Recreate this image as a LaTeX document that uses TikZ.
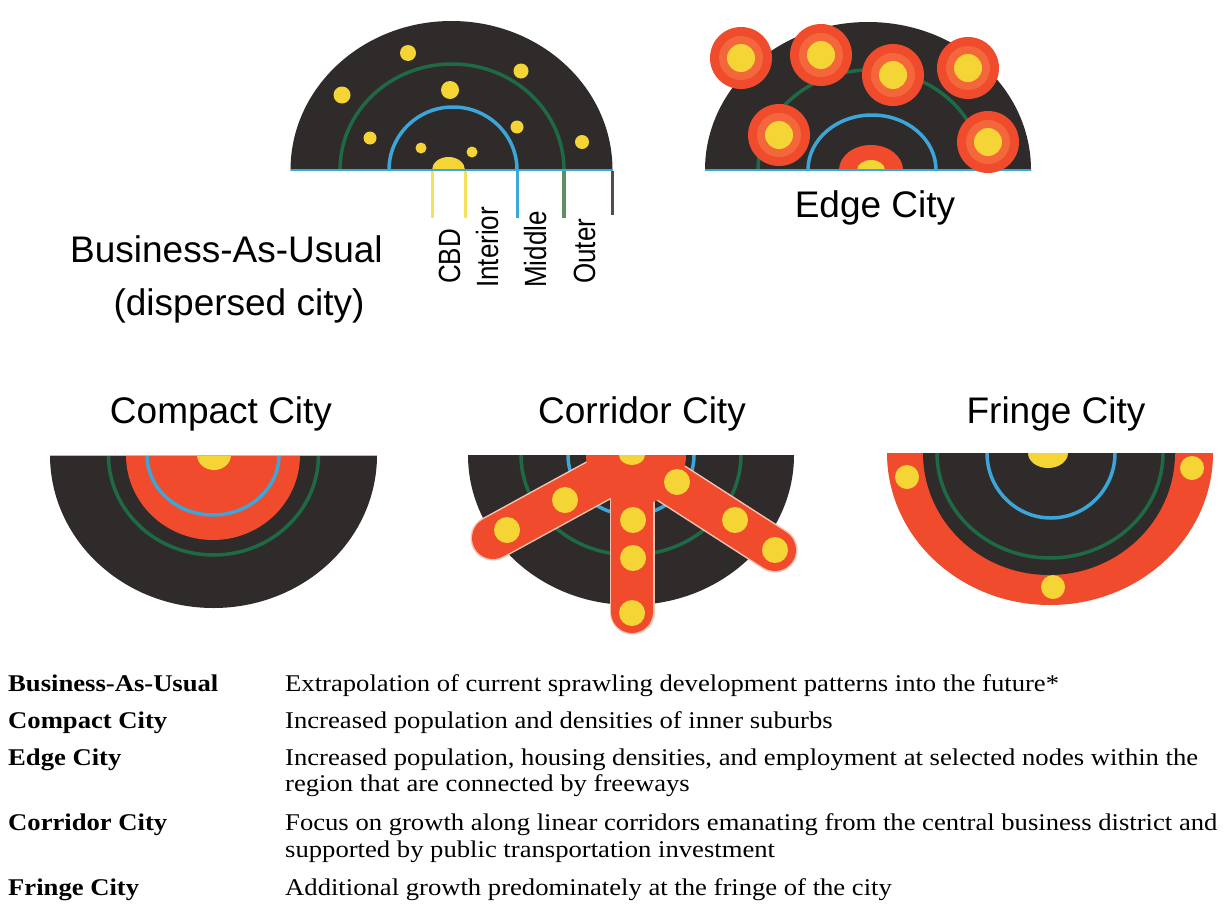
\documentclass[tikz,border=0pt]{standalone}
\usepackage{fontspec}
\setmainfont{Liberation Serif}
\newfontfamily\labelfont{Liberation Sans}

\definecolor{citydark}{HTML}{302B2B}
\definecolor{cityred}{HTML}{EF4B2C}
\definecolor{cityredlight}{HTML}{F4673A}
\definecolor{cityyellow}{HTML}{F5D535}
\definecolor{cityblue}{HTML}{3CA6D9}
\definecolor{citygreen}{HTML}{1E6A45}
\definecolor{tickyellow}{HTML}{F6E25A}
\definecolor{tickgreen}{HTML}{5E8F63}
\definecolor{tickdark}{HTML}{5B4848}
\definecolor{armedge}{HTML}{F6C3B0}

\tikzset{
  titletext/.style={font=\labelfont\fontsize{37}{40}\selectfont, inner sep=0pt, anchor=base},
  zonetext/.style={font=\labelfont\fontsize{26}{28}\selectfont, inner sep=0pt, rotate=90, anchor=base west},
  rowhead/.style={font=\bfseries\fontsize{24}{26}\selectfont, inner sep=0pt, anchor=base west},
  rowtext/.style={font=\fontsize{24}{26}\selectfont, inner sep=0pt, anchor=base west},
  ring/.style={line width=3.5pt},
  tick/.style={line width=3pt},
  arm/.style={line width=42pt, line cap=round, cityred},
  armrim/.style={line width=45pt, line cap=round, armedge},
}

% rotated ring labels are set a little taller than wide
\newcommand{\zonetag}[1]{\scalebox{1}[1.18]{#1}}
% table lines are set slightly wide
\newcommand{\widen}[1]{\scalebox{1.11}[1]{#1}}

\begin{document}
\begin{tikzpicture}[x=1pt, y=-1pt]
  \fill[white] (0,0) rectangle (1225,913);
  \useasboundingbox (0,0) rectangle (1225,913);

  % ---------- Business-As-Usual (dispersed city) ----------
  \begin{scope}
    \clip (280,0) rectangle (625,170);
    \fill[citydark] (451.5,170) ellipse[x radius=161pt, y radius=149pt];
    \draw[citygreen, ring] (452,170) ellipse[x radius=112pt, y radius=106pt];
    \draw[cityblue, ring] (453,170) ellipse[x radius=64pt, y radius=63pt];
    \fill[cityyellow] (448.5,170) ellipse[x radius=16.5pt, y radius=13pt];
  \end{scope}
  \foreach \px/\py/\r in {408/53/8, 342/95/8.5, 450/90/9, 521/71/7.5, 370/138/6.5,
                          421/148/5.5, 472/152/5.5, 517/127/6.5, 582/142/7}
    \fill[cityyellow] (\px,\py) circle[radius=\r pt];
  \draw[cityblue, line width=2pt] (290.5,170) -- (612.5,170);
  \draw[tickyellow, tick] (432,171) -- (432,218);
  \draw[tickyellow, tick] (465,171) -- (465,218);
  \draw[cityblue, tick] (517,171) -- (517,218);
  \draw[tickgreen, line width=4pt] (564,171) -- (564,218);
  \draw[tickdark, tick] (612.5,171) -- (612.5,215);

  \node[zonetext] (lblcbd) at (460,284) {\zonetag{CBD}};
  \node[zonetext] (lblint) at (498,288) {\zonetag{Interior}};
  \node[zonetext] (lblmid) at (546,288) {\zonetag{Middle}};
  \node[zonetext] (lblout) at (595,284) {\zonetag{Outer}};

  \node[titletext, anchor=base west] (bautitle) at (70,262) {Business-As-Usual};
  \node[titletext] (bausub) at (239,315) {(dispersed city)};

  % ---------- Edge City ----------
  \begin{scope}
    \clip (690,0) rectangle (1045,170);
    \fill[citydark] (868,170) ellipse[x radius=163pt, y radius=148pt];
    \draw[citygreen, ring] (870,170) ellipse[x radius=112pt, y radius=100pt];
    \draw[cityblue, ring] (872,170) ellipse[x radius=64pt, y radius=55pt];
    \fill[cityred] (871,170) ellipse[x radius=32pt, y radius=25pt];
    \fill[cityyellow] (871,170) ellipse[x radius=14pt, y radius=10pt];
  \end{scope}
  \draw[cityblue, line width=2pt] (705,170) -- (1031,170);
  \foreach \px/\py in {741/58, 821/55, 893/75, 968/68, 779/135, 988/142} {
    \fill[cityred] (\px,\py) circle[radius=31pt];
    \fill[cityredlight] (\px,\py) circle[radius=22pt];
    \fill[cityyellow] (\px,\py) circle[radius=14pt];
  }
  \node[titletext] (edgetitle) at (875,217) {Edge City};

  % ---------- Compact City ----------
  \node[titletext] (compacttitle) at (221,423) {Compact City};
  \begin{scope}
    \clip (40,455) rectangle (390,620);
    \fill[citydark] (213.5,455) ellipse[x radius=163.5pt, y radius=153pt];
    \draw[citygreen, ring] (213.5,455) ellipse[x radius=105pt, y radius=100pt];
    \fill[cityred] (213,455) ellipse[x radius=87pt, y radius=85pt];
    \draw[cityblue, ring] (213,455) ellipse[x radius=66pt, y radius=60pt];
    \fill[cityyellow] (214,455) ellipse[x radius=17pt, y radius=15pt];
  \end{scope}
  \draw[cityredlight!60, line width=1.5pt] (50,455.5) -- (377,455.5);

  % ---------- Corridor City ----------
  \node[titletext] (corridortitle) at (642,423) {Corridor City};
  \begin{scope}
    \clip (460,455) rectangle (810,640);
    \fill[citydark] (631,455) ellipse[x radius=163pt, y radius=150pt];
    \draw[citygreen, ring] (631,455) ellipse[x radius=110pt, y radius=100pt];
    \draw[cityblue, ring] (631,455) ellipse[x radius=63pt, y radius=60pt];
    % corridor arms, pale rim first
    \draw[armrim] (632,462) -- (493,538);
    \draw[armrim] (632,458) -- (775,550);
    \draw[armrim] (632,458) -- (632,612);
    \fill[cityred] (636,455) ellipse[x radius=50pt, y radius=50pt];
    \draw[arm] (632,462) -- (493,538);
    \draw[arm] (632,458) -- (775,550);
    \draw[arm] (632,458) -- (632,612);
    \fill[cityyellow] (632,455) ellipse[x radius=13pt, y radius=10pt];
  \end{scope}
  \foreach \px/\py in {507/530, 565/500, 677/482, 735/520, 775/550,
                       633/520, 633/558, 632/613}
    \fill[cityyellow] (\px,\py) circle[radius=13pt];

  % ---------- Fringe City ----------
  \node[titletext] (fringetitle) at (1056,423) {Fringe City};
  \begin{scope}
    \clip (880,453) rectangle (1225,620);
    \fill[cityred] (1050,453) ellipse[x radius=163pt, y radius=152pt];
    \fill[citydark] (1049,453) ellipse[x radius=126pt, y radius=122pt];
    \draw[citygreen, ring] (1050,453) ellipse[x radius=113pt, y radius=105pt];
    \draw[cityblue, ring] (1051,453) ellipse[x radius=64pt, y radius=65pt];
    \fill[cityyellow] (1048,453) ellipse[x radius=20pt, y radius=15pt];
  \end{scope}
  \foreach \px/\py in {907/477, 1192/468, 1053/587}
    \fill[cityyellow] (\px,\py) circle[radius=12pt];

  % ---------- Table of scenarios ----------
  \node[rowhead] (hbau)  at (8,691) {\widen{Business-As-Usual}};
  \node[rowhead] (hcomp) at (8,728) {\widen{Compact City}};
  \node[rowhead] (hedge) at (8,765) {\widen{Edge City}};
  \node[rowhead] (hcorr) at (8,830) {\widen{Corridor City}};
  \node[rowhead] (hfrin) at (8,895) {\widen{Fringe City}};

  \node[rowtext] (dbau)   at (285,691) {\widen{Extrapolation of current sprawling development patterns into the future*}};
  \node[rowtext] (dcomp)  at (285,728) {\widen{Increased population and densities of inner suburbs}};
  \node[rowtext] (dedge)  at (285,765) {\widen{Increased population, housing densities, and employment at selected nodes within the}};
  \node[rowtext] (dedgeb) at (285,791) {\widen{region that are connected by freeways}};
  \node[rowtext] (dcorr)  at (285,830) {\widen{Focus on growth along linear corridors emanating from the central business district and}};
  \node[rowtext] (dcorrb) at (285,857) {\widen{supported by public transportation investment}};
  \node[rowtext] (dfrin)  at (285,895) {\widen{Additional growth predominately at the fringe of the city}};
\end{tikzpicture}
\end{document}
